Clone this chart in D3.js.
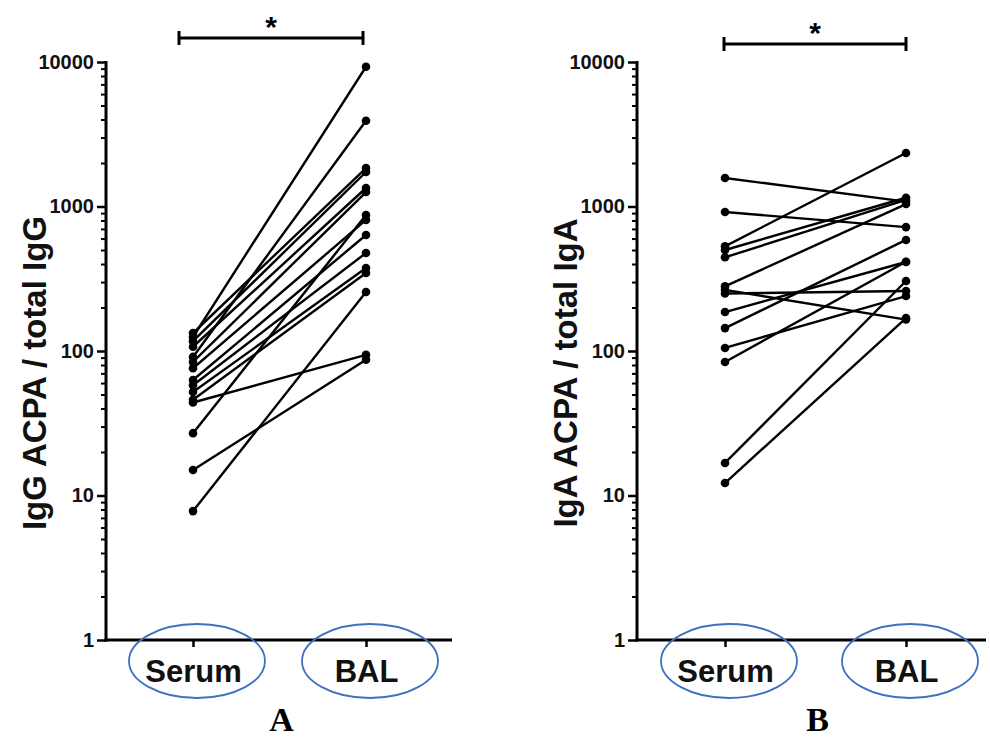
<!DOCTYPE html>
<html>
<head>
<meta charset="utf-8">
<script src="https://cdn.jsdelivr.net/npm/d3@7"></script>
<style>
  body { margin: 0; background: #fff; }
  text { font-family: Arial, "Liberation Sans", sans-serif; }
</style>
</head>
<body>
<div id="chart"></div>
<script>
const groups = ["Serum", "BAL"];
const yTicks = [1, 10, 100, 1000, 10000];

// panel A: IgG ACPA / total IgG, one pair per subject
const iggSerum = [133, 125, 117, 107, 91, 84, 76, 63, 58, 52, 46, 44, 27, 15, 7.8];
const iggBal   = [1846, 9270, 1733, 1343, 3925, 1259, 807, 635, 477, 375, 347, 94, 873, 87, 256];

// panel B: IgA ACPA / total IgA
const igaSerum = [1575, 916, 530, 500, 445, 280, 265, 250, 186, 144, 105, 84, 16.8, 12.2];
const igaBal   = [1080, 720, 2345, 1150, 1110, 1040, 165, 260, 413, 587, 240, 415, 305, 169];

const W = 990, H = 744;
const svg = d3.select("#chart").append("svg")
    .attr("width", W)
    .attr("height", H);

const y = d3.scaleLog()
    .domain([1, 10000])
    .range([640, 62]);

function minorTicks() {
    const out = [];
    for (let e = 0; e < 4; e++) {
        for (let k = 2; k <= 9; k++) out.push(k * Math.pow(10, e));
    }
    return out;
}

function panel(opts) {
    const g = svg.append("g");
    const x = d3.scalePoint()
        .domain(groups)
        .range([opts.serumX, opts.balX]);

    // y axis
    const yAxis = d3.axisLeft(y)
        .tickValues(yTicks)
        .tickFormat(d3.format("d"))
        .tickSizeInner(9)
        .tickSizeOuter(0)
        .tickPadding(3);

    const ya = g.append("g")
        .attr("transform", `translate(${opts.axisX},0)`)
        .call(yAxis);
    ya.select(".domain").attr("stroke-width", 3).attr("d", `M0,${y(1) + 1.5}V${y(10000) - 1}`);
    ya.selectAll(".tick line").attr("stroke-width", 2.5);
    ya.selectAll(".tick text")
        .style("font-size", "20px")
        .style("font-weight", "bold")
        .attr("fill", "#111");

    g.append("g")
        .attr("transform", `translate(${opts.axisX},0)`)
        .call(d3.axisLeft(y).tickValues(minorTicks()).tickFormat("").tickSize(5))
        .call(s => s.select(".domain").remove())
        .selectAll(".tick line").attr("stroke-width", 2);

    // x axis
    g.append("line")
        .attr("x1", opts.axisX - 1.5)
        .attr("x2", opts.axisEnd)
        .attr("y1", y(1))
        .attr("y2", y(1))
        .attr("stroke", "#000")
        .attr("stroke-width", 3);

    const xa = g.append("g")
        .attr("transform", `translate(0,${y(1)})`)
        .call(d3.axisBottom(x).tickSizeInner(7).tickSizeOuter(0).tickPadding(13));
    xa.select(".domain").remove();
    xa.selectAll(".tick line").attr("stroke-width", 2.5);
    xa.selectAll(".tick text")
        .style("font-size", "31px")
        .style("font-weight", "bold")
        .attr("fill", "#111");

    // blue ovals round the group labels
    g.selectAll(".oval")
        .data(groups)
        .enter().append("ellipse")
        .attr("class", "oval")
        .attr("cx", d => x(d) + 4)
        .attr("cy", 661)
        .attr("rx", 68)
        .attr("ry", 37)
        .attr("fill", "none")
        .attr("stroke", "#3f6fbf")
        .attr("stroke-width", 1.8);

    // paired lines
    const pairs = opts.serum.map((s, i) => [s, opts.bal[i]]);
    g.selectAll(".pair")
        .data(pairs)
        .enter().append("line")
        .attr("class", "pair")
        .attr("x1", x("Serum"))
        .attr("x2", x("BAL"))
        .attr("y1", d => y(d[0]))
        .attr("y2", d => y(d[1]))
        .attr("stroke", "#000")
        .attr("stroke-width", 2.4);

    g.selectAll(".dotS")
        .data(opts.serum)
        .enter().append("circle")
        .attr("cx", x("Serum"))
        .attr("cy", d => y(d))
        .attr("r", 4.3)
        .attr("fill", "#000");

    g.selectAll(".dotB")
        .data(opts.bal)
        .enter().append("circle")
        .attr("cx", x("BAL"))
        .attr("cy", d => y(d))
        .attr("r", 4.3)
        .attr("fill", "#000");

    // significance bar
    const b = g.append("g").attr("stroke", "#000").attr("stroke-width", 3);
    b.append("line").attr("x1", opts.barL).attr("x2", opts.barR).attr("y1", opts.barY).attr("y2", opts.barY);
    b.append("line").attr("x1", opts.barL).attr("x2", opts.barL).attr("y1", opts.barY - 7).attr("y2", opts.barY + 7);
    b.append("line").attr("x1", opts.barR).attr("x2", opts.barR).attr("y1", opts.barY - 7).attr("y2", opts.barY + 7);
    g.append("text")
        .attr("x", (opts.barL + opts.barR) / 2)
        .attr("y", opts.barY - 1)
        .attr("text-anchor", "middle")
        .style("font-size", "30px")
        .style("font-weight", "bold")
        .text("*");

    // y title
    g.append("text")
        .attr("transform", `translate(${opts.titleX},373) rotate(-90)`)
        .attr("text-anchor", "middle")
        .style("font-size", "33px")
        .style("font-weight", "bold")
        .attr("fill", "#111")
        .text(opts.title);

    // panel letter
    g.append("text")
        .attr("x", (x("Serum") + x("BAL")) / 2 + 2)
        .attr("y", 731)
        .attr("text-anchor", "middle")
        .style("font-family", "'Liberation Serif', 'Times New Roman', serif")
        .style("font-size", "34px")
        .style("font-weight", "bold")
        .text(opts.letter);
}

panel({
    axisX: 106, axisEnd: 452, serumX: 193, balX: 366,
    serum: iggSerum, bal: iggBal,
    barL: 179, barR: 363, barY: 38,
    titleX: 46, title: "IgG ACPA / total IgG", letter: "A"
});

panel({
    axisX: 637, axisEnd: 986, serumX: 725, balX: 906,
    serum: igaSerum, bal: igaBal,
    barL: 724, barR: 906, barY: 44,
    titleX: 577, title: "IgA ACPA / total IgA", letter: "B"
});
</script>
</body>
</html>
